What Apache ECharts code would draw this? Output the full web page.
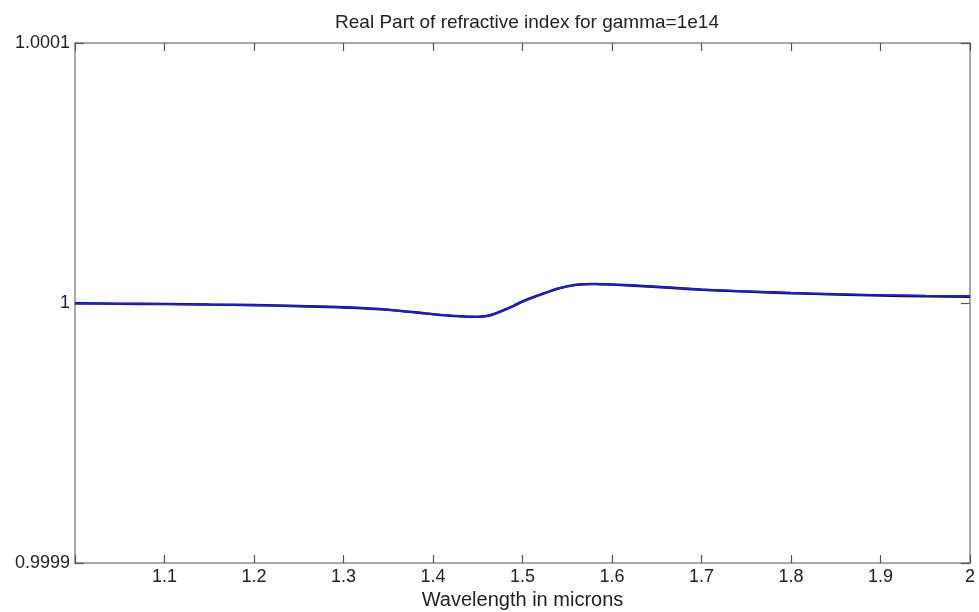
<!DOCTYPE html>
<html>
<head>
<meta charset="utf-8">
<script src="https://cdn.jsdelivr.net/npm/echarts@6/dist/echarts.min.js"></script>
<style>
  html, body { margin: 0; padding: 0; background: #fff; }
  #chart { width: 979px; height: 612px; }
</style>
</head>
<body>
<div id="chart"></div>
<script>
// wavelength (microns)
var wavelength = [1.00, 1.05, 1.10, 1.15, 1.20, 1.25, 1.30, 1.35, 1.40, 1.43, 1.45, 1.46, 1.47, 1.48, 1.49,
                  1.50, 1.52, 1.54, 1.56, 1.58, 1.60, 1.65, 1.70, 1.75, 1.80, 1.85, 1.90, 1.95, 2.00];
// real part of refractive index, blue curve
var nBlue = [0.9999998, 0.9999997, 0.9999996, 0.9999994, 0.9999992, 0.9999988, 0.9999983, 0.9999974, 0.9999957,
             0.9999949, 0.9999947, 0.9999950, 0.9999960, 0.9999974, 0.9999989,
             1.0000006, 1.0000032, 1.0000056, 1.0000070, 1.0000073, 1.0000071, 1.0000062, 1.0000052, 1.0000045,
             1.0000039, 1.0000034, 1.0000031, 1.0000028, 1.0000027];
// black curve (almost on top of the blue one)
var nBlack = [0.9999999, 0.9999997, 0.9999996, 0.9999994, 0.9999992, 0.9999988, 0.9999983, 0.9999974, 0.9999957,
              0.9999949, 0.9999947, 0.9999950, 0.9999960, 0.9999974, 0.9999989,
              1.0000006, 1.0000032, 1.0000056, 1.0000070, 1.0000073, 1.0000071, 1.0000062, 1.0000051, 1.0000044,
              1.0000038, 1.0000033, 1.0000029, 1.0000026, 1.0000024];
var xTicks = [1.0, 2.0, 0.1];
var yTicks = [0.9999, 1.0001, 0.0001];

var chart = echarts.init(document.getElementById('chart'));

function pairs(xs, ys) {
    return xs.map(function (x, i) { return [x, ys[i]]; });
}

function yFmt(v) {
    if (Math.abs(v - 1) < 1e-9) return '1';
    return v.toFixed(4);
}

var font = '"Liberation Sans", Arial, sans-serif';
var axisLineStyle = { color: '#8a8a8a', width: 1.5 };
var tickStyle = { color: '#555', width: 1.2 };

var option = {
    backgroundColor: '#fff',
    animation: false,
    title: {
        text: 'Real Part of refractive index for gamma=1e14',
        left: 522, top: 8, textAlign: 'center',
        textStyle: { fontFamily: font, fontSize: 19, fontWeight: 'normal', color: '#222' }
    },
    grid: { left: 75, right: 9, top: 43, bottom: 49, containLabel: false, outerBoundsMode: 'none' },
    xAxis: [{
        type: 'value', min: xTicks[0], max: xTicks[1], interval: xTicks[2],
        name: 'Wavelength in microns', nameLocation: 'middle', nameGap: 24,
        nameTextStyle: { fontFamily: font, fontSize: 20, color: '#222' },
        axisLine: { lineStyle: axisLineStyle },
        axisTick: { inside: true, length: 8, lineStyle: tickStyle },
        axisLabel: {
            fontFamily: font, fontSize: 18, color: '#222', margin: 5,
            formatter: function (v) { return Math.abs(v - 1) < 1e-9 ? '' : String(+v.toFixed(1)); }
        },
        splitLine: { show: false }
    }, {
        type: 'value', position: 'top', min: xTicks[0], max: xTicks[1], interval: xTicks[2],
        axisLine: { lineStyle: axisLineStyle },
        axisTick: { inside: true, length: 8, lineStyle: tickStyle },
        axisLabel: { show: false },
        splitLine: { show: false }
    }],
    yAxis: [{
        type: 'value', min: yTicks[0], max: yTicks[1], interval: yTicks[2],
        axisLine: { show: true, lineStyle: axisLineStyle },
        axisTick: { show: true, inside: true, length: 9, lineStyle: tickStyle },
        axisLabel: { fontFamily: font, fontSize: 18, color: '#222', margin: 5, formatter: yFmt },
        splitLine: { show: false }
    }, {
        type: 'value', position: 'right', min: yTicks[0], max: yTicks[1], interval: yTicks[2],
        axisLine: { show: true, lineStyle: axisLineStyle },
        axisTick: { show: true, inside: true, length: 9, lineStyle: tickStyle },
        axisLabel: { show: false },
        splitLine: { show: false }
    }],
    series: [{
        type: 'line', name: 'black', data: pairs(wavelength, nBlack),
        showSymbol: false, smooth: 0.3,
        lineStyle: { color: '#111', width: 2.6 }
    }, {
        type: 'line', name: 'blue', data: pairs(wavelength, nBlue),
        showSymbol: false, smooth: 0.3,
        lineStyle: { color: '#1a1aff', width: 1.8 }
    }]
};
chart.setOption(option);
</script>
</body>
</html>
